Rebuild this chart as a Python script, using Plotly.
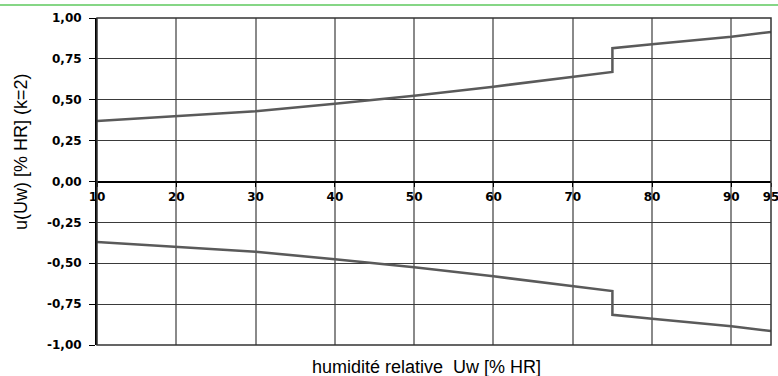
import plotly.graph_objects as go

# humidité relative Uw [% HR]
hum = [10, 20, 30, 40, 50, 60, 70, 75, 75, 80, 90, 95]
# incertitude élargie (k=2), borne haute / borne basse
u_haut = [0.37, 0.40, 0.43, 0.475, 0.525, 0.58, 0.64, 0.67, 0.815, 0.84, 0.885, 0.915]
u_bas = [-0.37, -0.40, -0.43, -0.475, -0.525, -0.58, -0.64, -0.67, -0.815, -0.84, -0.885, -0.915]

x_ticks = [10, 20, 30, 40, 50, 60, 70, 80, 90, 95]
y_ticks = [1.0, 0.75, 0.5, 0.25, 0.0, -0.25, -0.5, -0.75, -1.0]
y_labels = ["1,00", "0,75", "0,50", "0,25", "0,00", "-0,25", "-0,50", "-0,75", "-1,00"]

W, H = 778, 376
ML, MR, MT, MB = 97, 7, 18, 31
pw, ph = W - ML - MR, H - MT - MB

line_style = dict(color="#5a5a5a", width=2.5)
tick_font = dict(family="DejaVu Sans, sans-serif", size=12, color="black")

fig = go.Figure()
fig.add_trace(go.Scatter(x=hum, y=u_haut, mode="lines", line=line_style, showlegend=False))
fig.add_trace(go.Scatter(x=hum, y=u_bas, mode="lines", line=line_style, showlegend=False))

fig.update_layout(
    width=W, height=H,
    margin=dict(l=ML, r=MR, t=MT, b=MB),
    paper_bgcolor="white",
    plot_bgcolor="white",
    font=dict(family="Liberation Sans, Arial, sans-serif", color="black"),
    xaxis=dict(
        range=[10, 95],
        tickvals=x_ticks,
        ticktext=[f"<b>{v}</b>" for v in x_ticks],
        tickfont=tick_font,
        showgrid=True, gridcolor="#8a8a8a", gridwidth=2,
        zeroline=False,
        showline=True, linecolor="black", linewidth=2,
        anchor="free", position=0.5,
        ticks="outside", ticklen=4, tickcolor="black",
        ticklabeloverflow="allow",
        automargin=False,
    ),
    yaxis=dict(
        range=[-1, 1],
        tickvals=y_ticks,
        ticktext=[f"<b>{t}</b>" for t in y_labels],
        tickfont=tick_font,
        showgrid=True, gridcolor="#3a3a3a", gridwidth=1,
        zeroline=False,
        showline=True, linecolor="black", linewidth=2,
        ticks="outside", ticklen=6, tickcolor="black",
        ticklabelstandoff=5,
        automargin=False,
    ),
    shapes=[
        dict(type="rect", xref="paper", yref="paper", x0=0, x1=1, y0=0, y1=1,
             line=dict(color="#333333", width=1.5), layer="above"),
        dict(type="line", xref="paper", yref="paper",
             x0=-ML / pw, x1=1 + MR / pw, y0=1 + 13 / ph, y1=1 + 13 / ph,
             line=dict(color="#86d686", width=2)),
    ],
    annotations=[
        dict(text="humidité relative \u00a0Uw [% HR]", xref="paper", yref="paper",
             x=(426 - ML) / pw, y=-(367 - MT - ph) / ph, showarrow=False,
             font=dict(size=18), xanchor="center", yanchor="middle"),
        dict(text="u(Uw) [% HR] (k=2)", xref="paper", yref="paper",
             x=-(ML - 21) / pw, y=(MT + ph - 152) / ph, showarrow=False,
             font=dict(size=18), textangle=-90, xanchor="center", yanchor="middle"),
    ],
)

# la page par défaut garde une marge de 8 px autour du body
fig.write_html("out.html",
               config={"displayModeBar": False},
               post_script="document.body.style.margin='0';document.body.style.overflow='hidden';")
